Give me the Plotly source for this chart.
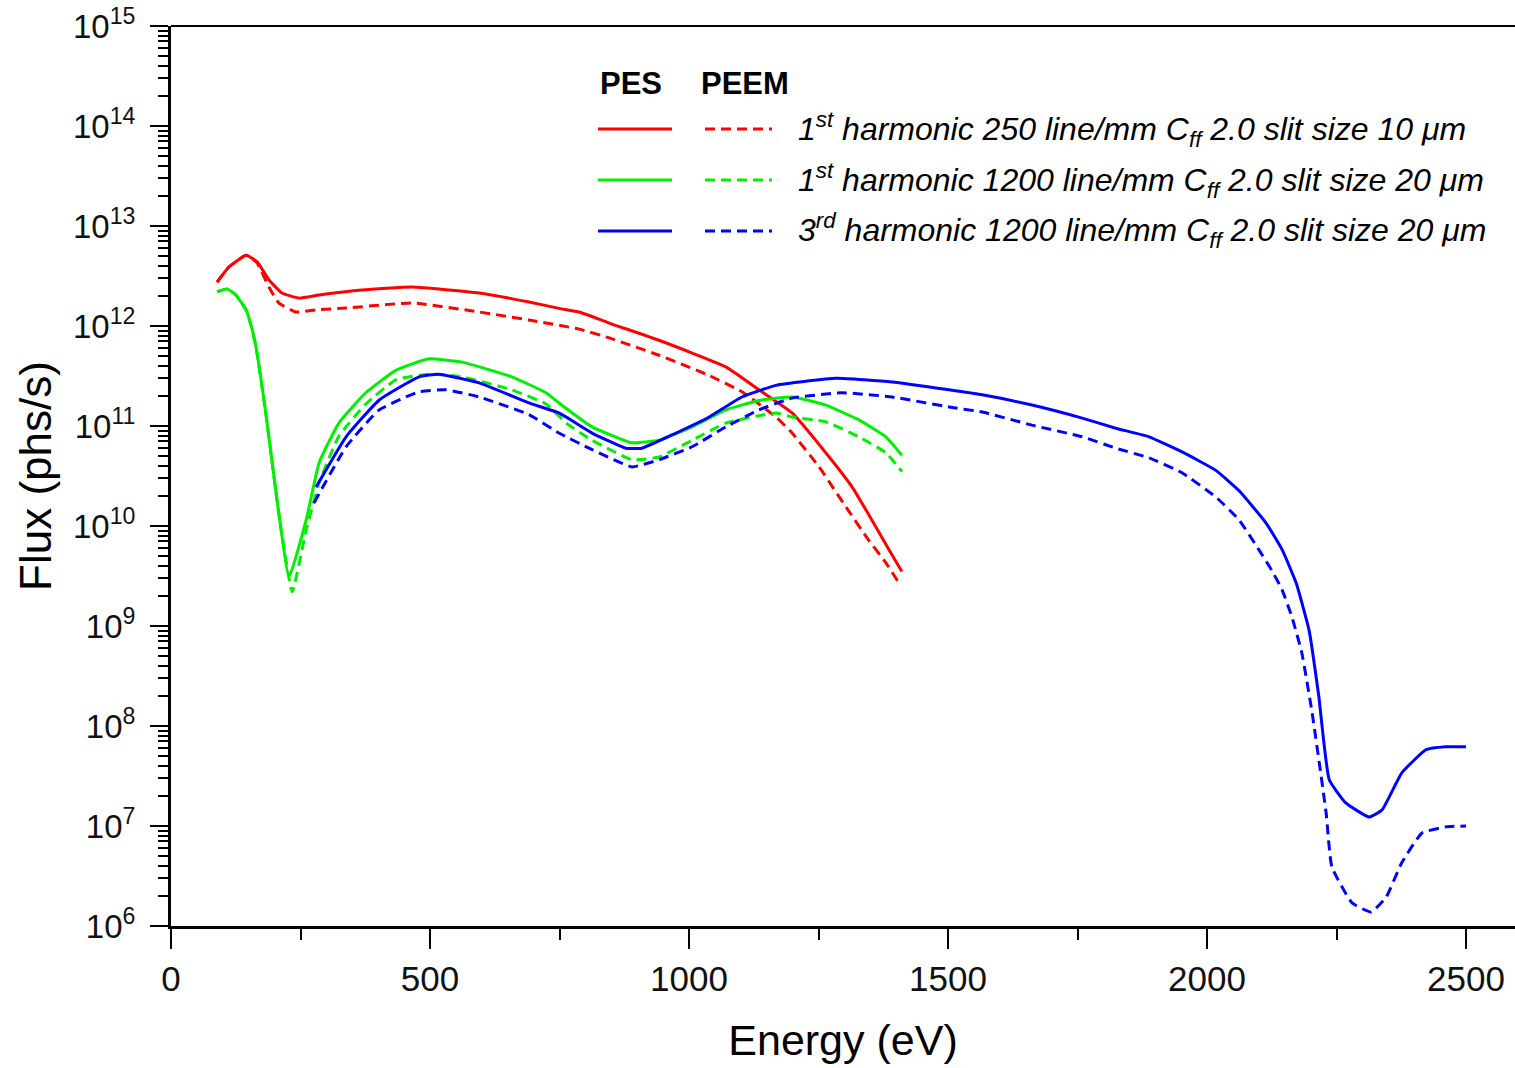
import plotly.graph_objects as go

# ---------------- data ----------------
# 1st harmonic, 250 line/mm, PES (solid) / PEEM (dashed)
red_pes_E = [89, 112, 145, 166, 189, 214, 247, 286, 369, 465, 595, 691, 749, 788, 846,
             942, 1071, 1135, 1199, 1264, 1315, 1353, 1386, 1411]
red_pes_F = [2.75e12, 3.9e12, 5.1e12, 4.4e12, 2.9e12, 2.14e12, 1.9e12, 2.04e12, 2.29e12,
             2.45e12, 2.14e12, 1.74e12, 1.5e12, 1.38e12, 1.07e12, 7.2e11, 3.9e11, 2.3e11,
             1.35e11, 5.4e10, 2.45e10, 1.15e10, 5.8e9, 3.5e9]

red_peem_E = [89, 112, 145, 166, 189, 208, 241, 280, 338, 465, 595, 691, 788, 846, 942,
              1039, 1102, 1168, 1199, 1251, 1303, 1347, 1380, 1405]
red_peem_F = [2.75e12, 3.9e12, 5.1e12, 4.3e12, 2.45e12, 1.7e12, 1.38e12, 1.45e12, 1.51e12,
              1.7e12, 1.38e12, 1.15e12, 9.3e11, 7.6e11, 5.1e11, 3.2e11, 2.2e11, 1.23e11,
              8.5e10, 3.9e10, 1.55e10, 7.2e9, 4.3e9, 2.7e9]

# 1st harmonic, 1200 line/mm
green_pes_E = [89, 108, 125, 145, 156, 164, 183, 208, 228, 261, 286, 324, 376, 434, 498,
               562, 658, 724, 749, 813, 890, 942, 1006, 1071, 1135, 1199, 1264, 1328, 1380, 1411]
green_pes_F = [2.2e12, 2.35e12, 2.05e12, 1.45e12, 9.5e11, 6.2e11, 1.35e11, 1.35e10, 3.1e9,
               1.15e10, 4.3e10, 1.07e11, 2.15e11, 3.6e11, 4.7e11, 4.35e11, 3.1e11, 2.15e11,
               1.7e11, 9.8e10, 6.8e10, 7.2e10, 9.8e10, 1.45e11, 1.8e11, 1.95e11, 1.62e11,
               1.15e11, 7.8e10, 5.1e10]

green_peem_E = [89, 108, 125, 145, 156, 164, 183, 208, 234, 261, 286, 324, 376, 434, 498,
                562, 658, 724, 763, 813, 890, 942, 1006, 1071, 1168, 1199, 1264, 1328, 1380, 1411]
green_peem_F = [2.2e12, 2.35e12, 2.05e12, 1.45e12, 9.5e11, 6.2e11, 1.35e11, 1.35e10, 2.2e9,
                9.1e9, 2.7e10, 7.9e10, 1.66e11, 2.9e11, 3.3e11, 3.1e11, 2.3e11, 1.66e11,
                1.07e11, 7.2e10, 4.6e10, 4.9e10, 7.2e10, 1.07e11, 1.35e11, 1.23e11, 1.1e11,
                7.8e10, 5.4e10, 3.5e10]

# 3rd harmonic, 1200 line/mm
blue_pes_E = [280, 338, 402, 479, 517, 595, 691, 749, 813, 878, 909, 975, 1039, 1102, 1168,
              1284, 1392, 1502, 1566, 1662, 1759, 1824, 1888, 1952, 2017, 2062, 2114, 2145,
              2172, 2197, 2216, 2236, 2268, 2313, 2338, 2376, 2423, 2461, 2500]
blue_pes_F = [2.45e10, 7.8e10, 1.82e11, 3.1e11, 3.3e11, 2.7e11, 1.7e11, 1.35e11, 8.5e10,
              6.0e10, 6.0e10, 8.5e10, 1.23e11, 1.95e11, 2.55e11, 3.0e11, 2.75e11, 2.3e11,
              2.05e11, 1.62e11, 1.2e11, 9.5e10, 7.8e10, 5.5e10, 3.6e10, 2.25e10, 1.07e10,
              5.8e9, 2.7e9, 9.1e8, 1.95e8, 2.9e7, 1.7e7, 1.23e7, 1.45e7, 3.4e7, 5.8e7,
              6.2e7, 6.2e7]

blue_peem_E = [276, 338, 402, 479, 531, 595, 691, 749, 813, 890, 942, 1006, 1071, 1135,
               1199, 1295, 1392, 1502, 1566, 1662, 1759, 1824, 1888, 1952, 2017, 2062, 2100,
               2125, 2145, 2164, 2183, 2203, 2230, 2241, 2280, 2317, 2346, 2376, 2415, 2461, 2500]
blue_peem_F = [1.7e10, 6.2e10, 1.45e11, 2.2e11, 2.3e11, 1.95e11, 1.3e11, 8.5e10, 5.8e10,
               3.9e10, 4.6e10, 6.2e10, 9.8e10, 1.45e11, 1.9e11, 2.15e11, 1.95e11, 1.55e11,
               1.38e11, 1.02e11, 7.8e10, 6.0e10, 4.8e10, 3.4e10, 1.95e10, 1.15e10, 5.8e9,
               3.6e9, 2.3e9, 1.23e9, 5.4e8, 1.35e8, 1.35e7, 3.9e6, 1.7e6, 1.38e6, 1.95e6,
               4.3e6, 8.5e6, 9.8e6, 1.0e7]

x_tick_vals = [0, 500, 1000, 1500, 2000, 2500]
y_tick_exps = [6, 7, 8, 9, 10, 11, 12, 13, 14, 15]

legend_rows = [
    "1<sup>st</sup> harmonic 250 line/mm C<sub>ff</sub> 2.0 slit size 10 μm",
    "1<sup>st</sup> harmonic 1200 line/mm C<sub>ff</sub> 2.0 slit size 20 μm",
    "3<sup>rd</sup> harmonic 1200 line/mm C<sub>ff</sub> 2.0 slit size 20 μm",
]
row_colors = ["#ff0000", "#00ee00", "#0000ff"]

# ---------------- figure ----------------
FONT = "Arial, Liberation Sans, Helvetica, sans-serif"
W, H = 1515, 1068
L, R, T, B = 171, 0, 26, 142
DASH = "10px,6px"
LW = 3

fig = go.Figure()
series = [
    (red_pes_E, red_pes_F, row_colors[0], "solid"),
    (red_peem_E, red_peem_F, row_colors[0], DASH),
    (green_pes_E, green_pes_F, row_colors[1], "solid"),
    (green_peem_E, green_peem_F, row_colors[1], DASH),
    (blue_pes_E, blue_pes_F, row_colors[2], "solid"),
    (blue_peem_E, blue_peem_F, row_colors[2], DASH),
]
for xs, ys, c, d in series:
    fig.add_trace(go.Scatter(x=xs, y=ys, mode="lines",
                             line=dict(color=c, width=LW, dash=d, shape="spline", smoothing=0.4),
                             showlegend=False, hoverinfo="skip"))

pw = W - L - R
ph = H - T - B


def px(xp):
    return (xp - L) / pw


def py(yp):
    return (H - B - yp) / ph


shapes = []
annotations = []
# legend header
annotations.append(dict(x=px(631), y=py(83), xref="paper", yref="paper", text="<b>PES</b>",
                        showarrow=False, font=dict(family=FONT, size=31, color="#000"),
                        xanchor="center", yanchor="middle"))
annotations.append(dict(x=px(745), y=py(83), xref="paper", yref="paper", text="<b>PEEM</b>",
                        showarrow=False, font=dict(family=FONT, size=31, color="#000"),
                        xanchor="center", yanchor="middle"))
for i, (txt, c) in enumerate(zip(legend_rows, row_colors)):
    yy = 129 + 51 * i
    shapes.append(dict(type="line", xref="paper", yref="paper", x0=px(598), x1=px(672),
                       y0=py(yy), y1=py(yy), line=dict(color=c, width=LW)))
    shapes.append(dict(type="line", xref="paper", yref="paper", x0=px(705), x1=px(772),
                       y0=py(yy), y1=py(yy), line=dict(color=c, width=LW, dash=DASH)))
    annotations.append(dict(x=px(796), y=py(yy), xref="paper", yref="paper",
                            text="<i>" + txt + "</i>", showarrow=False,
                            font=dict(family=FONT, size=32, color="#000"),
                            xanchor="left", yanchor="middle"))
# top frame line
shapes.append(dict(type="line", xref="paper", yref="paper", x0=0, x1=1, y0=1, y1=1,
                   line=dict(color="#000", width=2)))

fig.update_layout(
    width=W, height=H,
    margin=dict(l=L, r=R, t=T, b=B, pad=0),
    paper_bgcolor="white", plot_bgcolor="white",
    font=dict(family=FONT, color="#000"),
    shapes=shapes, annotations=annotations,
    showlegend=False,
)
fig.update_xaxes(
    range=[0, pw / 0.518], showgrid=False, zeroline=False,
    showline=True, linecolor="#000", linewidth=3,
    ticks="outside", ticklen=20, tickwidth=2, tickcolor="#000",
    tickvals=x_tick_vals, ticktext=[str(v) for v in x_tick_vals],
    tickfont=dict(family=FONT, size=35, color="#111"),
    minor=dict(ticks="outside", ticklen=11, tickwidth=2, tickcolor="#000", dtick=250, tick0=0),
    title=dict(text="Energy (eV)", font=dict(family=FONT, size=43, color="#000"), standoff=28),
)
fig.update_yaxes(
    type="log", range=[6, 15], showgrid=False, zeroline=False,
    showline=True, linecolor="#000", linewidth=3,
    ticks="outside", ticklen=18, tickwidth=2, tickcolor="#000",
    tickvals=[10 ** e for e in y_tick_exps],
    ticktext=["10<sup>%d</sup>" % e for e in y_tick_exps],
    tickfont=dict(family=FONT, size=33, color="#111"),
    ticklabelstandoff=8,
    minor=dict(ticks="outside", ticklen=10, tickwidth=2, tickcolor="#000", dtick="D1"),
    title=dict(text="Flux (phs/s)", font=dict(family=FONT, size=44, color="#000"), standoff=8),
)

fig.write_html("out.html", config={"displayModeBar": False},
               post_script="document.body.style.margin='0px';document.body.style.overflow='hidden';")
